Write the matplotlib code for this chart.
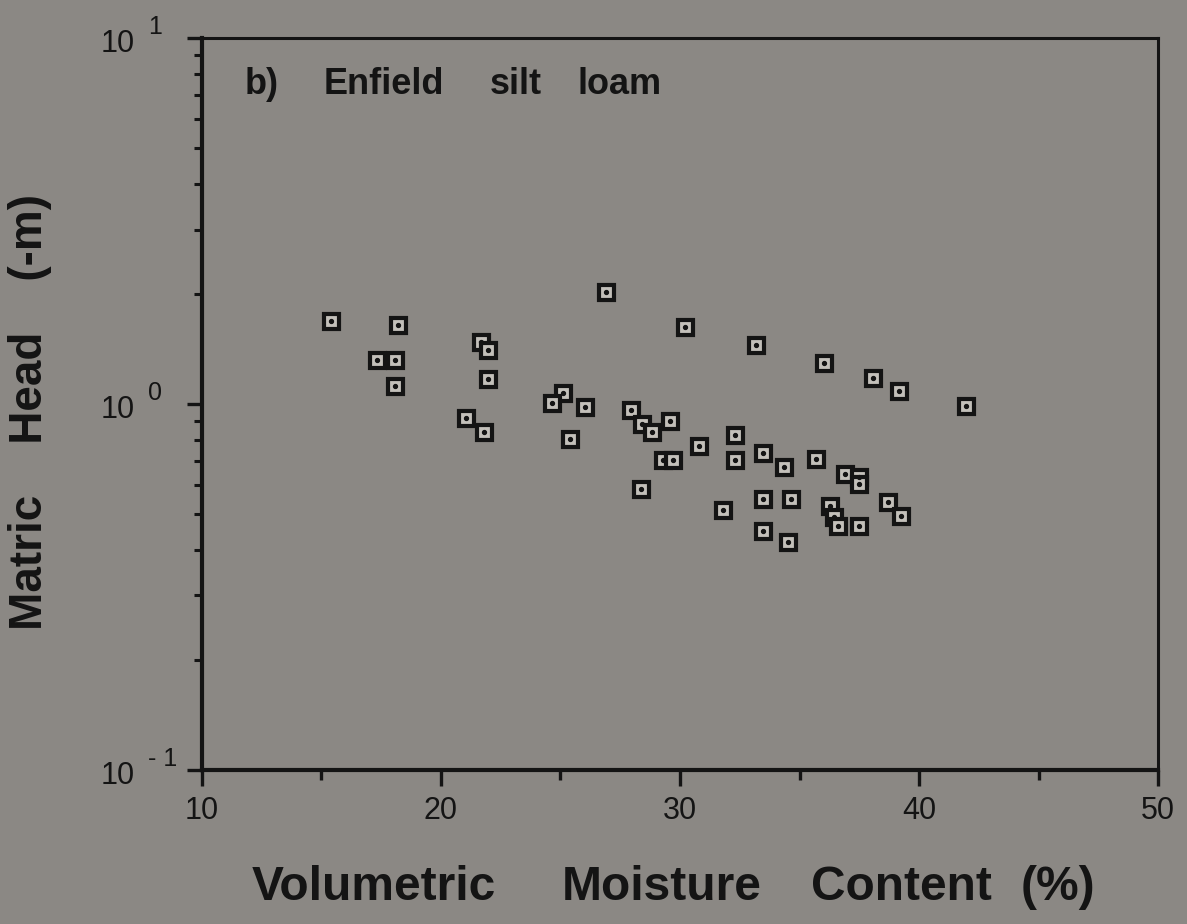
import numpy as np
import matplotlib.pyplot as plt
from matplotlib.ticker import FixedLocator, NullFormatter

plt.rcParams['font.family'] = ['Liberation Sans', 'DejaVu Sans']

# Enfield silt loam field measurements
moisture = [15.40, 18.23, 17.35, 18.10, 18.10, 21.68, 21.97, 21.96, 21.07, 21.82,
            26.90, 30.19, 25.10, 24.66, 26.02, 25.41, 27.94, 28.41, 28.85, 29.60,
            30.80, 29.28, 29.70, 28.39, 32.29, 32.29, 33.18, 33.48, 34.35, 35.70,
            36.01, 36.88, 37.49, 37.49, 38.08, 38.68, 39.26, 39.14, 41.98, 31.82,
            33.48, 34.66, 36.29, 36.45, 36.59, 37.49, 33.46, 34.50]
head = [1.69, 1.65, 1.32, 1.32, 1.12, 1.48, 1.41, 1.17, 0.917, 0.838,
        2.02, 1.62, 1.075, 1.005, 0.980, 0.803, 0.962, 0.880, 0.838, 0.900,
        0.769, 0.702, 0.702, 0.585, 0.824, 0.704, 1.448, 0.736, 0.672, 0.707,
        1.296, 0.644, 0.631, 0.603, 1.182, 0.540, 0.496, 1.084, 0.990, 0.515,
        0.550, 0.550, 0.527, 0.491, 0.464, 0.464, 0.451, 0.421]

x_ticks = [10, 20, 30, 40, 50]
x_minor = [15, 25, 35, 45]
y_decades = [0.1, 1, 10]
y_exponents = ['- 1', '0', '1']

title_words = ['b)', 'Enfield', 'silt', 'loam']
xlabel_words = ['Volumetric', 'Moisture', 'Content', '(%)']

BG = '#8b8884'
INK = '#141414'

fig = plt.figure(figsize=(11.87, 9.24), dpi=100, facecolor=BG)
ax = fig.add_axes([0.1699, 0.1667, 0.8059, 0.7919], facecolor=BG)

# open squares with a dot in the middle
ax.plot(moisture, head, linestyle='none', marker='s', markersize=10.8,
        markerfacecolor='#c3c0ba', markeredgecolor=INK, markeredgewidth=3.0)
ax.plot(moisture, head, linestyle='none', marker='o', markersize=2.8,
        markerfacecolor=INK, markeredgecolor=INK)

ax.set_yscale('log')
ax.set_xlim(10, 50)
ax.set_ylim(0.1, 10)

for side in ['left', 'bottom']:
    ax.spines[side].set_linewidth(3.0)
for side in ['right', 'top']:
    ax.spines[side].set_linewidth(2.2)
for s in ax.spines.values():
    s.set_color(INK)

ax.xaxis.set_major_locator(FixedLocator(x_ticks))
ax.xaxis.set_minor_locator(FixedLocator(x_minor))
ax.set_xticklabels([str(t) for t in x_ticks])
ax.tick_params(axis='x', which='major', direction='out', length=11.5, width=2.4,
               color=INK, labelsize=22, labelcolor=INK, pad=7)
ax.tick_params(axis='x', which='minor', direction='out', length=7, width=2.4, color=INK)

minor_y = [m * d for d in [0.1, 1] for m in range(2, 10)]
ax.yaxis.set_major_locator(FixedLocator(y_decades))
ax.yaxis.set_minor_locator(FixedLocator(minor_y))
ax.yaxis.set_major_formatter(NullFormatter())
ax.yaxis.set_minor_formatter(NullFormatter())
ax.tick_params(axis='y', which='major', direction='out', length=11, width=2.4, color=INK)
ax.tick_params(axis='y', which='minor', direction='out', length=5.5, width=2.2, color=INK)

# decade labels written as 10 with a raised exponent
for val, ex in zip(y_decades, y_exponents):
    ax.annotate('10', xy=(0, val), xycoords=('axes fraction', 'data'),
                xytext=(-73, -4), textcoords='offset points',
                ha='left', va='center', fontsize=22, color=INK)
    ax.annotate(ex, xy=(0, val), xycoords=('axes fraction', 'data'),
                xytext=(-38.5, 8), textcoords='offset points',
                ha='left', va='center', fontsize=18, color=INK)

# panel caption and x label set word by word for the wide spacing
for word, px in zip(title_words, [262, 384, 516, 620]):
    fig.text(px / 1187, 1 - 84 / 924, word, fontsize=26, fontweight='bold',
             color=INK, ha='center', va='center')

for word, px in zip(xlabel_words, [374, 662, 901, 1058]):
    fig.text(px / 1187, 1 - 888 / 924, word, fontsize=34.5, fontweight='bold',
             color=INK, ha='center', va='center')

fig.text(30 / 1187, 1 - 412 / 924, 'Matric    Head    (-m)', rotation=90,
         fontsize=33, fontweight='bold', color=INK, ha='center', va='center')

fig.savefig('out.png', dpi=100, facecolor=BG)
